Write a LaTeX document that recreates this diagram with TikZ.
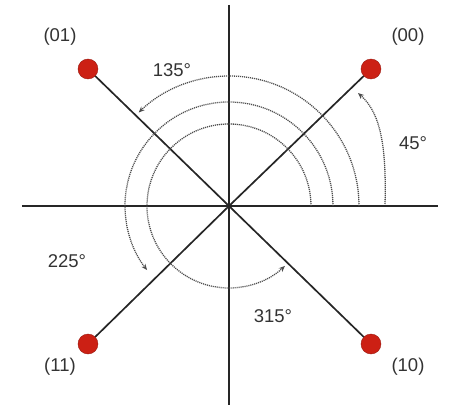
\documentclass[tikz,border=0pt]{standalone}
\usepackage{fontspec}
\setmainfont{Liberation Sans}
\usetikzlibrary{arrows.meta}
\definecolor{dotred}{RGB}{204,32,20}

\begin{document}
\begin{tikzpicture}[
  x=1pt,y=1pt,
  axis/.style={line width=1.9pt,black!85},
  spoke/.style={line width=1.7pt,black!85},
  pt/.style={circle,fill=dotred,draw=dotred!75!black,line width=0.4pt,minimum size=20pt,inner sep=0pt},
  lbl/.style={font=\fontsize{18.5}{20}\selectfont,text=black!80},
  turn/.style={line width=1.3pt,black!70,dash pattern=on 1.1pt off 0.9pt,-{Stealth[length=6pt,width=5pt]}}
]
\useasboundingbox (-229,-199) rectangle (243,206);
% axes
\coordinate (o) at (0,0);
\coordinate (top) at (0,201);
\coordinate (bot) at (0,-199);
\coordinate (left) at (-207,0);
\coordinate (right) at (209,0);
\draw[axis] (left) -- (right);
\draw[axis] (top) -- (bot);
% constellation points
\node[pt] (p00) at (142,137) {};
\node[pt] (p01) at (-141,137) {};
\node[pt] (p11) at (-141,-138) {};
\node[pt] (p10) at (142,-138) {};
\draw[spoke] (o) -- (p00);
\draw[spoke] (o) -- (p01);
\draw[spoke] (o) -- (p11);
\draw[spoke] (o) -- (p10);
\node[lbl] (l00) at (179,169) {(00)};
\node[lbl] (l01) at (-169,169) {(01)};
\node[lbl] (l11) at (-169,-161) {(11)};
\node[lbl] (l10) at (179,-161) {(10)};
% phase arcs
\draw[turn] (156,2) .. controls (158,70) and (148,96) .. (129,113);
\draw[turn] (130,0) arc[start angle=0,end angle=134,radius=130];
\draw[turn] (104,0) arc[start angle=0,end angle=218,radius=104];
\draw[turn] (82,0) arc[start angle=0,end angle=313,radius=82];
\node[lbl] (a45) at (184,63) {45°};
\node[lbl] (a135) at (-57,136) {135°};
\node[lbl] (a225) at (-162,-55) {225°};
\node[lbl] (a315) at (44,-110) {315°};
\end{tikzpicture}
\end{document}
